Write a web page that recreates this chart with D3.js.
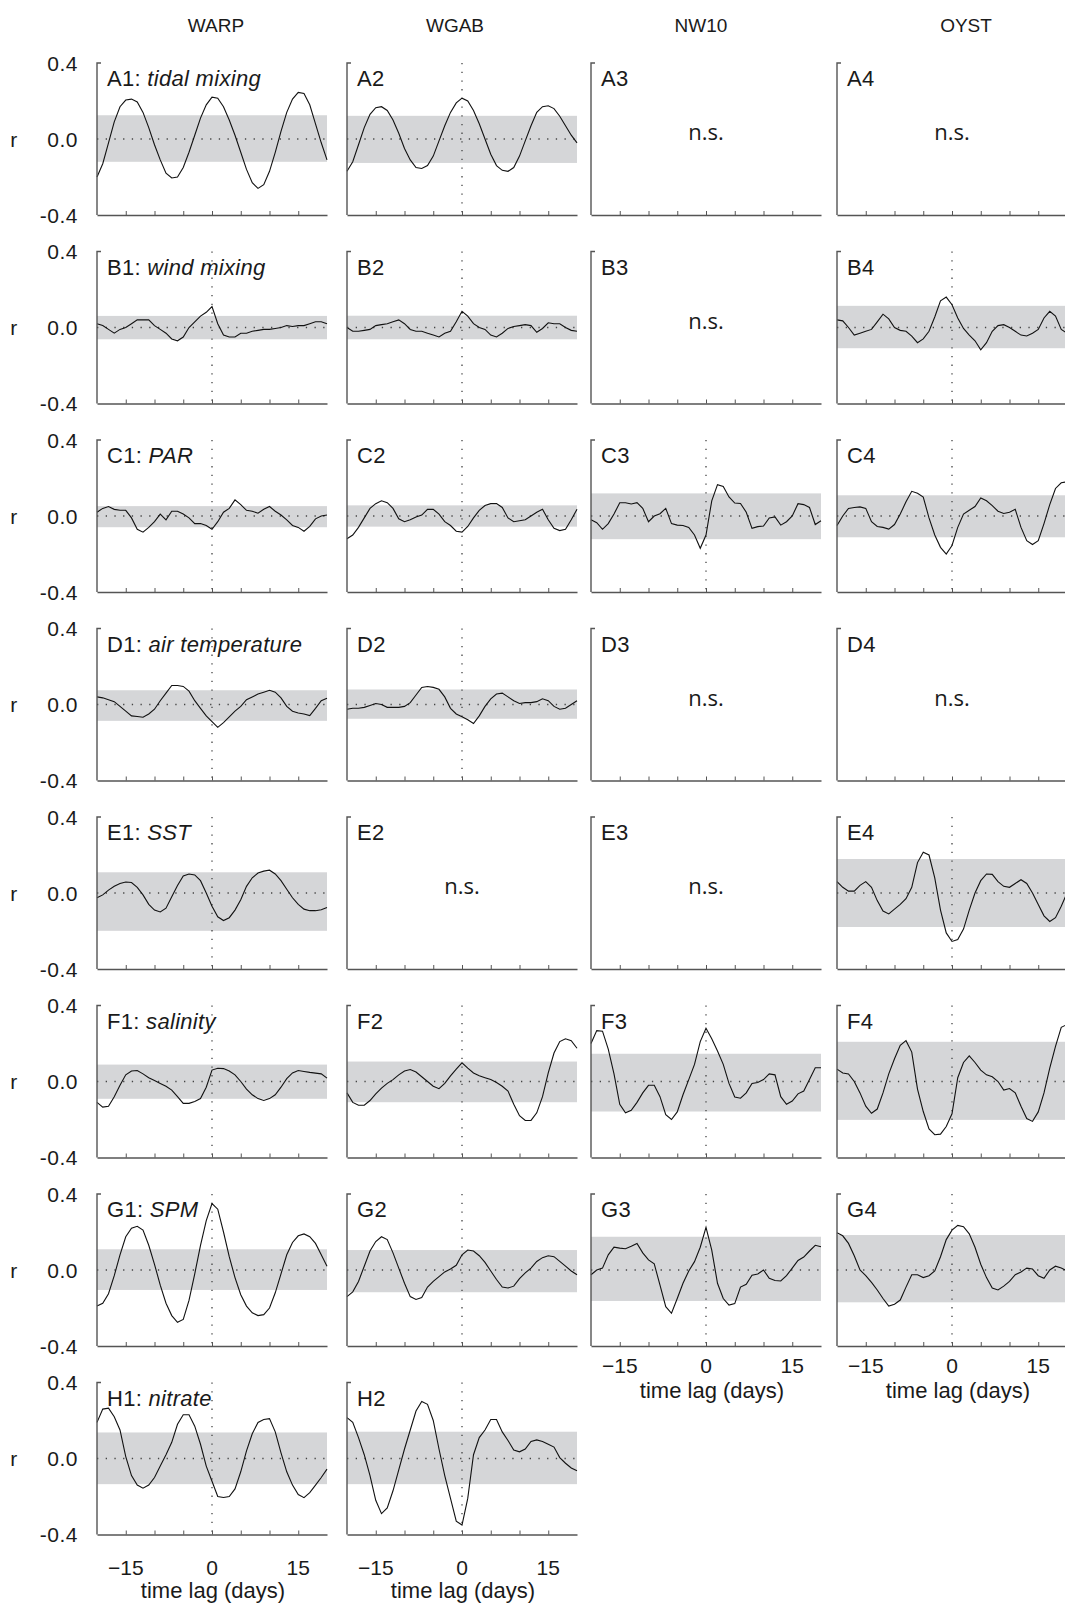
<!DOCTYPE html>
<html>
<head>
<meta charset="utf-8">
<script src="https://cdn.jsdelivr.net/npm/d3@7"></script>
<style>
body { margin: 0; background: #fff; }
svg { display: block; font-family: "Liberation Sans", Arial, Helvetica, sans-serif; }
.head { font-size: 19px; fill: #1a1a1a; }
.plabel { font-size: 22px; letter-spacing: 0.3px; fill: #1a1a1a; }
.ytick { font-size: 21px; letter-spacing: 0.5px; fill: #1a1a1a; }
.xtick { font-size: 21px; fill: #1a1a1a; }
.xtitle { font-size: 22px; fill: #1a1a1a; }
.ns { font-family: "Open Sans", sans-serif; font-size: 22px; fill: #1a1a1a; }
.band { fill: #d5d6d8; }
.zero { stroke: #444; stroke-width: 1.3; stroke-dasharray: 1.3 7.4; fill: none; }
.frame { stroke: #555; stroke-width: 1.4; fill: none; }
.curve { stroke: #111; stroke-width: 1.1; fill: none; }
</style>
</head>
<body>
<svg id="chart" width="1065" height="1603"></svg>
<script>
// lag grid (days)
const lags = d3.range(-20, 21);
const columns = ["WARP", "WGAB", "NW10", "OYST"];
const rowKeys = ["A", "B", "C", "D", "E", "F", "G", "H"];
const variables = ["tidal mixing", "wind mixing", "PAR", "air temperature", "SST", "salinity", "SPM", "nitrate"];
const yTickValues = [0.4, 0.0, -0.4];
const yTickLabels = ["0.4", "0.0", "-0.4"];
const xTicks = [-15, -10, -5, 0, 5, 10, 15];
const xTickLabels = [-15, 0, 15];
const notSignificant = ["A3", "A4", "B3", "D3", "D4", "E2", "E3"];
const absent = ["H3", "H4"];
const noLagLine = ["A1"];

// cross-correlation r, lag -20 .. 20
const A1 = [-0.20,-0.13,-0.02,0.09,0.17,0.205,0.21,0.195,0.14,0.06,-0.03,-0.11,-0.18,-0.205,-0.20,-0.15,-0.07,0.02,0.11,0.18,0.22,0.215,0.17,0.10,0.02,-0.07,-0.16,-0.23,-0.26,-0.24,-0.17,-0.07,0.04,0.14,0.21,0.245,0.24,0.18,0.08,-0.02,-0.11];
const A2 = [-0.17,-0.12,-0.03,0.06,0.13,0.165,0.17,0.15,0.10,0.03,-0.05,-0.11,-0.15,-0.155,-0.14,-0.09,-0.01,0.07,0.14,0.19,0.215,0.20,0.15,0.08,0.00,-0.08,-0.14,-0.165,-0.17,-0.15,-0.09,-0.01,0.07,0.14,0.17,0.175,0.16,0.12,0.07,0.02,-0.02];
const B1 = [0.02,0.01,-0.01,-0.03,-0.01,0.00,0.02,0.04,0.04,0.04,0.01,-0.01,-0.03,-0.06,-0.07,-0.05,0.00,0.03,0.06,0.08,0.11,0.02,-0.04,-0.05,-0.05,-0.03,-0.03,-0.02,-0.015,-0.01,-0.01,-0.005,0.00,0.01,0.005,0.01,0.01,0.02,0.03,0.03,0.02];
const B2 = [0.00,-0.02,-0.02,-0.015,-0.01,0.01,0.015,0.02,0.03,0.04,0.02,-0.01,-0.02,-0.02,-0.03,-0.04,-0.05,-0.03,-0.02,0.03,0.085,0.06,0.02,0.00,-0.01,-0.04,-0.05,-0.03,-0.005,0.005,0.01,0.015,0.01,-0.025,-0.005,0.025,0.02,0.02,0.00,-0.015,-0.02];
const B4 = [0.04,0.035,0.00,-0.04,-0.03,-0.02,-0.01,0.03,0.07,0.045,0.00,-0.015,-0.02,-0.045,-0.08,-0.06,-0.02,0.055,0.14,0.16,0.12,0.05,-0.005,-0.04,-0.07,-0.117,-0.08,-0.02,0.01,0.015,0.00,-0.02,-0.04,-0.045,-0.03,-0.01,0.05,0.085,0.06,-0.01,-0.03];
const C1 = [0.02,0.04,0.05,0.035,0.03,0.03,-0.01,-0.07,-0.085,-0.06,-0.03,0.01,-0.02,0.025,0.025,0.01,-0.01,-0.04,-0.04,-0.05,-0.07,-0.03,0.02,0.04,0.085,0.06,0.03,0.025,0.015,0.035,0.05,0.025,0.005,-0.02,-0.05,-0.06,-0.08,-0.055,-0.015,0.00,0.005];
const C2 = [-0.12,-0.10,-0.06,-0.01,0.04,0.065,0.08,0.07,0.04,-0.015,-0.03,-0.02,-0.005,0.005,0.035,0.035,0.01,-0.03,-0.05,-0.08,-0.085,-0.055,-0.01,0.03,0.055,0.065,0.065,0.045,-0.01,-0.03,-0.025,-0.02,0.00,0.02,0.035,-0.02,-0.065,-0.077,-0.07,-0.02,0.035];
const C3 = [-0.02,-0.035,-0.07,-0.04,0.01,0.07,0.07,0.063,0.07,0.04,-0.03,0.00,0.012,0.04,-0.04,-0.048,-0.05,-0.06,-0.10,-0.17,-0.10,0.08,0.165,0.155,0.10,0.068,0.066,0.02,-0.065,-0.056,-0.053,-0.01,-0.005,-0.048,-0.03,0.00,0.065,0.06,0.045,-0.045,-0.025];
const C4 = [-0.05,0.00,0.04,0.045,0.048,0.04,-0.03,-0.055,-0.06,-0.069,-0.045,0.01,0.075,0.13,0.12,0.10,-0.01,-0.10,-0.165,-0.20,-0.155,-0.06,0.01,0.03,0.05,0.095,0.08,0.055,0.025,0.013,0.02,0.035,-0.06,-0.13,-0.15,-0.13,-0.04,0.06,0.145,0.175,0.18];
const D1 = [0.04,0.035,0.025,0.015,-0.01,-0.035,-0.06,-0.063,-0.067,-0.05,-0.025,0.02,0.06,0.10,0.10,0.095,0.07,0.02,-0.02,-0.06,-0.09,-0.12,-0.095,-0.065,-0.035,-0.01,0.025,0.04,0.055,0.065,0.075,0.065,0.035,-0.01,-0.035,-0.045,-0.05,-0.058,-0.02,0.02,0.033];
const D2 = [-0.025,-0.02,-0.02,-0.015,-0.005,0.005,0.00,-0.015,-0.015,-0.015,-0.01,0.01,0.05,0.09,0.095,0.09,0.08,0.04,-0.02,-0.05,-0.065,-0.08,-0.10,-0.06,-0.01,0.03,0.055,0.06,0.04,0.02,0.005,0.01,0.01,0.015,0.03,0.02,-0.01,-0.025,-0.02,0.00,0.02];
const E1 = [-0.025,-0.01,0.015,0.035,0.05,0.058,0.055,0.03,-0.01,-0.06,-0.09,-0.10,-0.08,-0.02,0.04,0.09,0.10,0.095,0.065,0.00,-0.07,-0.125,-0.145,-0.13,-0.09,-0.035,0.035,0.08,0.105,0.115,0.12,0.10,0.065,0.02,-0.025,-0.06,-0.085,-0.093,-0.093,-0.088,-0.076];
const E4 = [0.06,0.03,0.01,0.01,0.04,0.06,0.03,-0.04,-0.095,-0.11,-0.085,-0.06,-0.03,0.03,0.16,0.215,0.20,0.08,-0.09,-0.21,-0.255,-0.245,-0.19,-0.09,0.00,0.065,0.10,0.098,0.06,0.035,0.03,0.05,0.07,0.05,0.00,-0.06,-0.12,-0.15,-0.13,-0.07,0.00];
const F1 = [-0.11,-0.135,-0.13,-0.08,-0.02,0.035,0.055,0.058,0.04,0.02,0.005,-0.01,-0.025,-0.045,-0.08,-0.115,-0.115,-0.105,-0.09,-0.03,0.06,0.07,0.068,0.055,0.035,0.00,-0.04,-0.07,-0.09,-0.10,-0.09,-0.07,-0.03,0.015,0.045,0.058,0.053,0.048,0.044,0.04,0.018];
const F2 = [-0.06,-0.11,-0.125,-0.125,-0.10,-0.065,-0.035,-0.01,0.01,0.035,0.055,0.063,0.05,0.025,0.00,-0.025,-0.038,-0.01,0.03,0.065,0.098,0.07,0.045,0.03,0.02,0.01,-0.005,-0.025,-0.05,-0.12,-0.18,-0.205,-0.205,-0.165,-0.08,0.045,0.15,0.21,0.225,0.215,0.175];
const F3 = [0.20,0.268,0.265,0.17,0.04,-0.12,-0.165,-0.152,-0.11,-0.06,-0.02,-0.02,-0.08,-0.175,-0.20,-0.16,-0.07,0.01,0.09,0.21,0.28,0.225,0.16,0.09,-0.01,-0.082,-0.088,-0.06,-0.01,-0.005,0.01,0.04,0.035,-0.08,-0.12,-0.103,-0.065,-0.05,0.01,0.072,0.072];
const F4 = [0.065,0.045,0.04,0.00,-0.06,-0.13,-0.167,-0.145,-0.06,0.04,0.12,0.19,0.215,0.155,-0.04,-0.158,-0.25,-0.28,-0.277,-0.237,-0.17,0.02,0.10,0.135,0.10,0.06,0.035,0.025,0.00,-0.045,-0.037,-0.06,-0.13,-0.195,-0.21,-0.16,-0.06,0.07,0.185,0.285,0.30];
const G1 = [-0.19,-0.175,-0.125,-0.03,0.08,0.175,0.22,0.23,0.21,0.13,0.03,-0.08,-0.175,-0.24,-0.275,-0.26,-0.16,-0.02,0.13,0.26,0.35,0.32,0.20,0.07,-0.04,-0.13,-0.19,-0.225,-0.24,-0.235,-0.20,-0.12,-0.02,0.08,0.145,0.18,0.19,0.175,0.14,0.08,0.02];
const G2 = [-0.14,-0.115,-0.06,0.02,0.10,0.15,0.175,0.16,0.09,0.01,-0.07,-0.14,-0.155,-0.145,-0.09,-0.06,-0.035,-0.01,0.005,0.025,0.08,0.105,0.10,0.075,0.04,-0.005,-0.05,-0.09,-0.095,-0.085,-0.045,-0.015,0.01,0.045,0.065,0.075,0.07,0.045,0.02,-0.005,-0.025];
const G3 = [-0.025,0.00,0.01,0.08,0.12,0.115,0.112,0.125,0.14,0.09,0.053,0.032,-0.08,-0.193,-0.228,-0.15,-0.07,-0.005,0.044,0.12,0.225,0.105,-0.07,-0.15,-0.185,-0.177,-0.09,-0.075,-0.027,-0.021,0.00,-0.044,-0.055,-0.058,-0.03,0.01,0.05,0.068,0.10,0.13,0.122];
const G4 = [0.196,0.18,0.14,0.075,0.00,-0.03,-0.065,-0.105,-0.15,-0.19,-0.18,-0.158,-0.09,-0.025,-0.025,-0.04,-0.03,-0.005,0.07,0.16,0.21,0.235,0.228,0.19,0.12,0.03,-0.04,-0.095,-0.105,-0.085,-0.06,-0.025,-0.01,0.01,0.005,-0.03,-0.044,0.00,0.02,0.01,-0.005];
const H1 = [0.19,0.26,0.265,0.22,0.15,0.01,-0.09,-0.14,-0.156,-0.14,-0.10,-0.04,0.02,0.085,0.18,0.23,0.23,0.17,0.075,-0.04,-0.12,-0.20,-0.205,-0.20,-0.16,-0.07,0.04,0.13,0.19,0.205,0.21,0.14,0.03,-0.07,-0.14,-0.19,-0.206,-0.18,-0.14,-0.10,-0.056];
const H2 = [0.215,0.19,0.11,0.02,-0.09,-0.22,-0.29,-0.26,-0.17,-0.06,0.05,0.15,0.25,0.30,0.285,0.20,0.05,-0.09,-0.21,-0.33,-0.35,-0.21,0.02,0.11,0.15,0.205,0.205,0.14,0.095,0.045,0.035,0.05,0.09,0.098,0.09,0.075,0.06,0.005,-0.025,-0.05,-0.065];

// significance band limits [lower, upper]
const bands = {
  A1: [-0.12, 0.125], A2: [-0.126, 0.122],
  B1: [-0.062, 0.061], B2: [-0.062, 0.062], B4: [-0.109, 0.114],
  C1: [-0.059, 0.052], C2: [-0.056, 0.056], C3: [-0.122, 0.119], C4: [-0.112, 0.109],
  D1: [-0.086, 0.075], D2: [-0.075, 0.079],
  E1: [-0.199, 0.109], E4: [-0.179, 0.179],
  F1: [-0.091, 0.089], F2: [-0.109, 0.105], F3: [-0.158, 0.146], F4: [-0.202, 0.209],
  G1: [-0.105, 0.109], G2: [-0.117, 0.105], G3: [-0.163, 0.175], G4: [-0.17, 0.184],
  H1: [-0.135, 0.137], H2: [-0.135, 0.141]
};
const series = {A1, A2, B1, B2, B4, C1, C2, C3, C4, D1, D2, E1, E4, F1, F2, F3, F4, G1, G2, G3, G4, H1, H2};

// layout
const colX = [97, 347, 591, 837];
const headerX = [216, 455, 701, 966];
const panelW = 230, panelH = 152;
const rowY = i => 63 + i * 188.5;

const svg = d3.select("#chart");
const x = d3.scaleLinear().domain([-20, 20]).range([0, panelW]);
const y = d3.scaleLinear().domain([-0.4, 0.4]).range([panelH, 0]);
const line = d3.line().x((d, i) => x(lags[i])).y(d => y(d));

svg.selectAll(".head").data(columns).enter()
  .append("text")
  .attr("class", "head")
  .attr("x", (d, i) => headerX[i])
  .attr("y", 32)
  .attr("text-anchor", "middle")
  .text(d => d);

rowKeys.forEach((rk, ri) => {
  // y labels on the left column
  const gy = svg.append("g").attr("transform", `translate(0,${rowY(ri)})`);
  gy.selectAll(".ytick").data(yTickValues).enter()
    .append("text")
    .attr("class", "ytick")
    .attr("x", 78)
    .attr("y", d => y(d))
    .attr("dy", "0.36em")
    .attr("text-anchor", "end")
    .text((d, i) => yTickLabels[i]);
  gy.append("text")
    .attr("class", "ytick")
    .attr("x", 14)
    .attr("y", y(0))
    .attr("dy", "0.36em")
    .attr("text-anchor", "middle")
    .text("r");

  columns.forEach((col, ci) => {
    const key = rk + (ci + 1);
    if (absent.includes(key)) return;
    const g = svg.append("g").attr("transform", `translate(${colX[ci]},${rowY(ri)})`);
    const data = series[key];

    if (data) {
      const b = bands[key];
      g.append("rect")
        .attr("class", "band")
        .attr("x", 0)
        .attr("width", panelW)
        .attr("y", y(b[1]))
        .attr("height", y(b[0]) - y(b[1]));
      g.append("line")
        .attr("class", "zero")
        .attr("x1", 0).attr("x2", panelW)
        .attr("y1", y(0)).attr("y2", y(0));
      if (!noLagLine.includes(key)) {
        g.append("line")
          .attr("class", "zero")
          .attr("x1", x(0)).attr("x2", x(0))
          .attr("y1", 0).attr("y2", panelH);
      }
      g.append("path")
        .datum(data)
        .attr("class", "curve")
        .attr("d", line);
    } else {
      g.append("text")
        .attr("class", "ns")
        .attr("x", panelW / 2)
        .attr("y", y(0) + 1)
        .attr("text-anchor", "middle")
        .text("n.s.");
    }

    // bottom axis with small inward ticks
    const xAxis = d3.axisBottom(x).tickValues(xTicks).tickSizeInner(-4).tickSizeOuter(0).tickFormat("");
    const ax = g.append("g").attr("transform", `translate(0,${panelH})`).call(xAxis);
    ax.select(".domain").attr("stroke", "#555").attr("stroke-width", 1.4);
    ax.selectAll(".tick line").attr("stroke", "#555").attr("stroke-width", 1);

    // left axis with a hook at the top
    g.append("path")
      .attr("class", "frame")
      .attr("d", `M4,0H0V${panelH}`);

    const lbl = g.append("text")
      .attr("class", "plabel")
      .attr("x", 10)
      .attr("y", 23);
    lbl.append("tspan").text(ci === 0 ? key + ": " : key);
    if (ci === 0) lbl.append("tspan").attr("font-style", "italic").text(variables[ri]);

    const showX = rk === "H" || (rk === "G" && ci >= 2);
    if (showX) {
      const tickY = rk === "H" ? 40 : 27;
      const titleY = rk === "H" ? 63 : 52;
      const titleShift = rk === "H" ? 1 : 6;
      g.selectAll(".xtick").data(xTickLabels).enter()
        .append("text")
        .attr("class", "xtick")
        .attr("x", d => x(d))
        .attr("y", panelH + tickY)
        .attr("text-anchor", "middle")
        .text(d => d3.format("")(d));
      g.append("text")
        .attr("class", "xtitle")
        .attr("x", panelW / 2 + titleShift)
        .attr("y", panelH + titleY)
        .attr("text-anchor", "middle")
        .text("time lag (days)");
    }
  });
});
</script>
</body>
</html>
